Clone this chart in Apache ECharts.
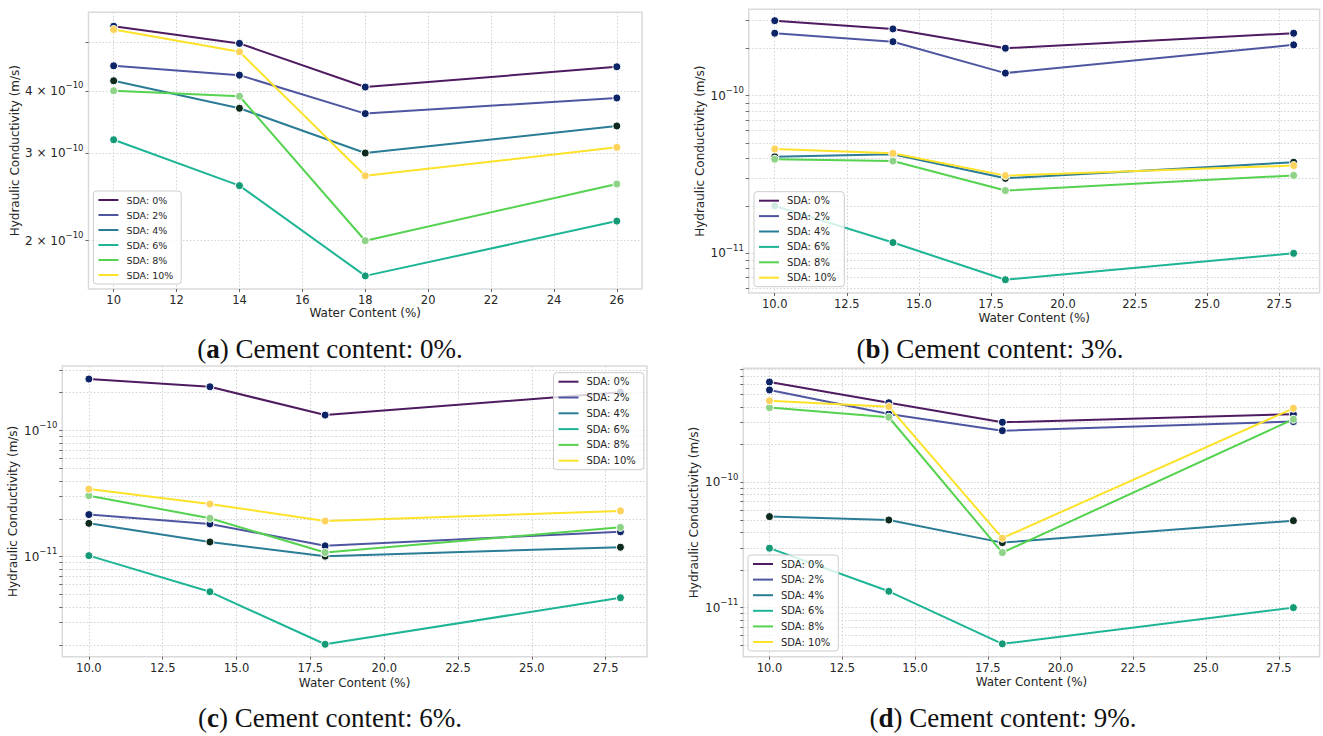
<!DOCTYPE html>
<html>
<head>
<meta charset="utf-8">
<title>Hydraulic conductivity vs water content</title>
<script src="https://cdn.jsdelivr.net/npm/echarts@6/dist/echarts.min.js"></script>
<style>
  html, body { margin: 0; padding: 0; background: #ffffff; }
  #chart { width: 1323px; height: 736px; }
</style>
</head>
<body>
<div id="chart"></div>
<script>
// ---- data -------------------------------------------------------------
const sdaLabels = ['SDA: 0%', 'SDA: 2%', 'SDA: 4%', 'SDA: 6%', 'SDA: 8%', 'SDA: 10%'];

const waterA = [10, 14, 18, 26];
const waterB = [10, 14.1, 18, 28];
const waterC = [10, 14.1, 18, 28];
const waterD = [10, 14.1, 18, 28];

// hydraulic conductivity (m/s), one row per SDA dosage, cement 0%
const kA = [
  [5.39e-10, 4.98e-10, 4.07e-10, 4.47e-10],
  [4.49e-10, 4.30e-10, 3.60e-10, 3.87e-10],
  [4.19e-10, 3.69e-10, 3.00e-10, 3.40e-10],
  [3.19e-10, 2.58e-10, 1.70e-10, 2.19e-10],
  [4.00e-10, 3.90e-10, 2.00e-10, 2.60e-10],
  [5.31e-10, 4.79e-10, 2.70e-10, 3.08e-10]
];
// cement 3%
const kB = [
  [2.99e-10, 2.65e-10, 2.00e-10, 2.49e-10],
  [2.49e-10, 2.20e-10, 1.39e-10, 2.10e-10],
  [4.10e-11, 4.25e-11, 2.99e-11, 3.78e-11],
  [2.00e-11, 1.17e-11, 6.80e-12, 1.00e-11],
  [3.95e-11, 3.85e-11, 2.50e-11, 3.12e-11],
  [4.59e-11, 4.31e-11, 3.11e-11, 3.60e-11]
];
// cement 6%
const kC = [
  [2.57e-10, 2.23e-10, 1.33e-10, 2.02e-10],
  [2.16e-11, 1.82e-11, 1.22e-11, 1.58e-11],
  [1.84e-11, 1.31e-11, 1.01e-11, 1.19e-11],
  [1.02e-11, 5.27e-12, 2.02e-12, 4.73e-12],
  [3.05e-11, 2.02e-11, 1.08e-11, 1.71e-11],
  [3.44e-11, 2.62e-11, 1.92e-11, 2.31e-11]
];
// cement 9%
const kD = [
  [6.30e-10, 4.31e-10, 3.01e-10, 3.49e-10],
  [5.45e-10, 3.50e-10, 2.58e-10, 3.05e-10],
  [5.32e-11, 5.00e-11, 3.30e-11, 4.94e-11],
  [2.98e-11, 1.35e-11, 5.14e-12, 1.00e-11],
  [3.94e-10, 3.30e-10, 2.75e-11, 3.18e-10],
  [4.47e-10, 4.01e-10, 3.58e-11, 3.89e-10]
];

// axis ranges and tick labels
const xRangeA = [9.2, 26.8];
const xRangeBCD = [9.1, 28.9];
const xTicksA = [10, 12, 14, 16, 18, 20, 22, 24, 26];
const xTicksBCD = [10, 12.5, 15, 17.5, 20, 22.5, 25, 27.5];
const yRangeA = [1.60e-10, 5.75e-10];
const yRangeB = [5.6e-12, 3.53e-10];
const yRangeC = [1.61e-12, 3.26e-10];
const yRangeD = [4.06e-12, 8.11e-10];
const yLabelsA = [2e-10, 3e-10, 4e-10];
const yLabelsDecades = [1e-11, 1e-10];

const captionTags = ['a', 'b', 'c', 'd'];
const cementContents = [0, 3, 6, 9];

// ---- styling ----------------------------------------------------------
const lineColors = ['#4e1b60', '#4f56a1', '#2b7c95', '#1db594', '#55d24f', '#fde22a'];
const markerColors = ['#0c2466', '#0c2466', '#0d2a1c', '#159a78', '#8fd389', '#fdd35c'];
const SANS = 'DejaVu Sans';
const TEXT = '#262626';
const GRIDLINE = { color: '#d2d2d2', width: 1, type: [1.5, 2] };

// every 1..9 x 10^n inside a log range: minor + major grid positions
function logGrid(lo, hi) {
  const out = [];
  for (let e = Math.floor(Math.log10(lo)) - 1; e <= Math.ceil(Math.log10(hi)); e++) {
    for (let m = 1; m <= 9; m++) {
      const v = m * Math.pow(10, e);
      if (v >= lo && v <= hi) out.push(v);
    }
  }
  return out;
}

// "4 × 10^-10" style label from a log10 position
function sciLabel(lv) {
  const e = Math.floor(lv + 1e-9);
  const m = Math.round(Math.pow(10, lv - e) * 100) / 100;
  const ex = e < 0 ? '\u2212' + (-e) : String(e);
  return (m === 1 ? '{b|10}' : '{b|' + m + ' \u00d7 10}') + '{s|' + ex + '}';
}

const panels = [
  { x: waterA, k: kA, xRange: xRangeA, xTicks: xTicksA, xDigits: 0, yRange: yRangeA, yLabels: yLabelsA,
    box: [88.5, 12.3, 553.5, 276.7], yNameGap: 64, xNameGap: 18,
    legend: { left: 93.4, top: 191, font: 9.5, gap: 5 } },
  { x: waterB, k: kB, xRange: xRangeBCD, xTicks: xTicksBCD, xDigits: 1, yRange: yRangeB, yLabels: yLabelsDecades,
    box: [748.8, 9.3, 570.8, 283.7], yNameGap: 43, xNameGap: 19,
    legend: { left: 754, top: 191.7, font: 10, gap: 5.4 } },
  { x: waterC, k: kC, xRange: xRangeBCD, xTicks: xTicksBCD, xDigits: 1, yRange: yRangeC, yLabels: yLabelsDecades,
    box: [62.3, 366, 584.7, 290.7], yNameGap: 43.5, xNameGap: 20.5,
    legend: { left: 553.5, top: 372.7, font: 10, gap: 5.8 } },
  { x: waterD, k: kD, xRange: xRangeBCD, xTicks: xTicksBCD, xDigits: 1, yRange: yRangeD, yLabels: yLabelsDecades,
    box: [743.3, 368.3, 576.3, 288.4], yNameGap: 43.5, xNameGap: 19,
    legend: { left: 748, top: 555, font: 10, gap: 5.6 } }
];
const captionPos = [[330, 349], [990, 349], [330, 718], [1003, 718]];

const grid = [], xAxis = [], yAxis = [], series = [], legend = [];

panels.forEach((p, pi) => {
  grid.push({
    left: p.box[0], top: p.box[1], width: p.box[2], height: p.box[3],
    show: true, backgroundColor: '#ffffff', borderColor: '#dadada', borderWidth: 1.5,
    containLabel: false, outerBoundsMode: 'none'
  });

  xAxis.push({
    type: 'value', gridIndex: pi, position: 'bottom', min: p.xRange[0], max: p.xRange[1],
    name: 'Water Content (%)', nameLocation: 'middle', nameGap: p.xNameGap,
    nameTextStyle: { fontFamily: SANS, fontSize: 12, color: TEXT },
    axisLine: { show: false },
    axisTick: { show: true, customValues: p.xTicks, length: 3, lineStyle: { color: '#666' } },
    axisLabel: {
      customValues: p.xTicks, margin: 5, fontFamily: SANS, fontSize: 11.5, color: TEXT,
      formatter: v => Number(v).toFixed(p.xDigits)
    },
    splitLine: { show: true, lineStyle: GRIDLINE }
  });

  // log axis that carries the data
  yAxis.push({
    type: 'log', logBase: 10, gridIndex: pi, position: 'left',
    min: p.yRange[0], max: p.yRange[1], show: false
  });

  // companion linear axis in log10 units: grid lines and scientific labels
  const gridVals = logGrid(p.yRange[0], p.yRange[1]).map(v => Math.log10(v));
  yAxis.push({
    type: 'value', gridIndex: pi, position: 'left', offset: 0,
    min: Math.log10(p.yRange[0]), max: Math.log10(p.yRange[1]),
    name: 'Hydraulic Conductivity (m/s)', nameLocation: 'middle', nameGap: p.yNameGap,
    nameTextStyle: { fontFamily: SANS, fontSize: 12, color: TEXT },
    axisLine: { show: false },
    axisTick: { show: true, customValues: gridVals, length: 3, lineStyle: { color: '#666' } },
    axisLabel: {
      customValues: p.yLabels.map(v => Math.log10(v)), margin: 5,
      formatter: v => sciLabel(v),
      rich: {
        b: { fontFamily: SANS, fontSize: 12, color: TEXT, lineHeight: 20, verticalAlign: 'middle' },
        s: { fontFamily: SANS, fontSize: 8.5, color: TEXT, lineHeight: 10, verticalAlign: 'top' }
      }
    },
    splitLine: { show: true, lineStyle: GRIDLINE }
  });

  p.k.forEach((row, si) => {
    series.push({
      type: 'line', name: sdaLabels[si], xAxisIndex: pi, yAxisIndex: 2 * pi,
      data: p.x.map((xv, j) => [xv, row[j]]),
      symbol: 'circle', symbolSize: 8, showSymbol: true, clip: false,
      lineStyle: { width: 2, color: lineColors[si] },
      itemStyle: { color: markerColors[si], borderColor: '#ffffff', borderWidth: 1 },
      emphasis: { disabled: true }, silent: true, animation: false
    });
  });

  legend.push({
    orient: 'vertical', left: p.legend.left, top: p.legend.top,
    data: sdaLabels.map((n, i) => ({ name: n, lineStyle: { color: lineColors[i], width: 2 } })),
    itemWidth: 20, itemHeight: 10, itemGap: p.legend.gap,
    padding: [4, 8, 4, 4],
    backgroundColor: 'rgba(255,255,255,0.8)', borderColor: '#cccccc', borderWidth: 1, borderRadius: 3,
    itemStyle: { opacity: 0 },
    textStyle: { fontFamily: SANS, fontSize: p.legend.font, color: TEXT, lineHeight: 10, padding: [0, 0, 0, 3] },
    selectedMode: false
  });
});

const graphic = captionTags.map((tag, i) => ({
  type: 'text', x: captionPos[i][0], y: captionPos[i][1], silent: true,
  style: {
    text: '({b|' + tag + '}) Cement content: ' + cementContents[i] + '%.',
    font: '27px "Liberation Serif"', fill: '#111111',
    align: 'center', verticalAlign: 'middle',
    rich: { b: { fontWeight: 'bold', fontSize: 27, fontFamily: 'Liberation Serif', fill: '#111111' } }
  }
}));

const chart = echarts.init(document.getElementById('chart'), null, { renderer: 'svg' });
chart.setOption({
  backgroundColor: '#ffffff',
  animation: false,
  grid, xAxis, yAxis, series, legend, graphic
});
</script>
</body>
</html>
